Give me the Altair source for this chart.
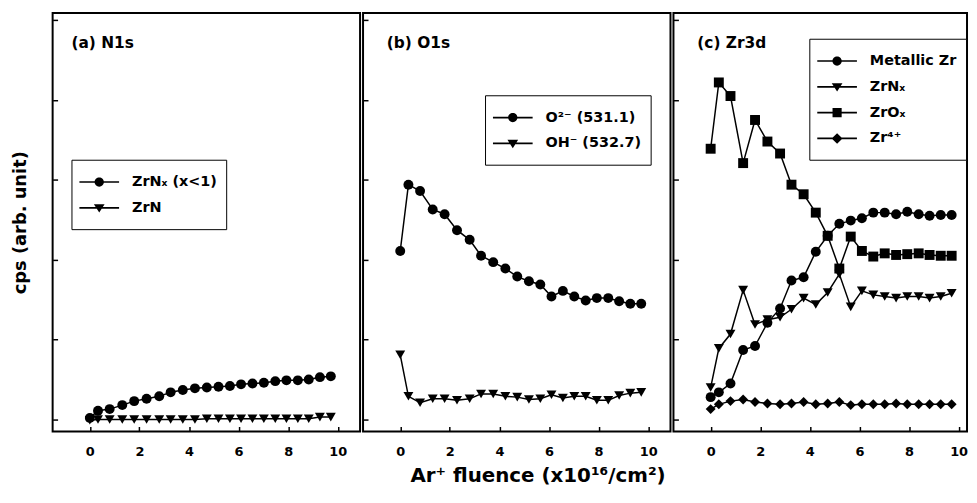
import math
import altair as alt
import pandas as pd

FONT = "DejaVu Sans"

# ---------------- data ----------------
fluence = [0, 0.33, 0.8, 1.31, 1.79, 2.29, 2.8, 3.26, 3.75, 4.24, 4.72,
           5.19, 5.65, 6.1, 6.56, 7.02, 7.48, 7.93, 8.39, 8.83, 9.28, 9.72]

a_series = ["ZrNₓ (x<1)", "ZrN"]
a_zrnx = [0.02, 0.11, 0.13, 0.18, 0.23, 0.26, 0.29, 0.34, 0.37, 0.39, 0.40,
          0.41, 0.42, 0.44, 0.45, 0.46, 0.48, 0.49, 0.49, 0.50, 0.53, 0.54]
a_zrn = [-0.01, 0.0, 0.0, 0.0, 0.0, 0.0, 0.0, 0.0, 0.0, 0.0, 0.01,
         0.01, 0.01, 0.01, 0.01, 0.01, 0.01, 0.01, 0.01, 0.01, 0.03, 0.03]

b_series = ["O²⁻ (531.1)", "OH⁻ (532.7)"]
b_o2 = [2.11, 2.94, 2.86, 2.63, 2.57, 2.37, 2.25, 2.05, 1.97, 1.89, 1.79,
        1.73, 1.69, 1.54, 1.61, 1.54, 1.49, 1.52, 1.52, 1.48, 1.45, 1.45]
b_oh = [0.81, 0.29, 0.21, 0.26, 0.26, 0.24, 0.26, 0.32, 0.32, 0.29, 0.28,
        0.25, 0.26, 0.31, 0.27, 0.29, 0.29, 0.24, 0.24, 0.30, 0.33, 0.34]

c_series = ["Metallic Zr", "ZrNₓ", "ZrOₓ", "Zr⁴⁺"]
c_metal = [0.28, 0.34, 0.45, 0.87, 0.92, 1.21, 1.39, 1.74, 1.78, 2.10, 2.30,
           2.45, 2.49, 2.52, 2.59, 2.59, 2.57, 2.60, 2.57, 2.55, 2.56, 2.56]
c_zrnx = [0.40, 0.89, 1.07, 1.62, 1.19, 1.25, 1.28, 1.38, 1.52, 1.44, 1.59,
          1.82, 1.41, 1.61, 1.56, 1.54, 1.52, 1.54, 1.54, 1.52, 1.54, 1.58]
c_zrox = [3.39, 4.22, 4.05, 3.21, 3.75, 3.48, 3.33, 2.94, 2.82, 2.59, 2.30,
          1.89, 2.29, 2.11, 2.04, 2.08, 2.06, 2.07, 2.08, 2.06, 2.05, 2.05]
c_zr4 = [0.13, 0.19, 0.23, 0.25, 0.22, 0.20, 0.19, 0.20, 0.22, 0.19, 0.20,
         0.22, 0.18, 0.19, 0.19, 0.19, 0.20, 0.19, 0.19, 0.19, 0.19, 0.19]

panel_labels = ["(a) N1s", "(b) O1s", "(c) Zr3d"]
x_ticks = [0, 2, 4, 6, 8, 10]
y_ticks = [0, 1, 2, 3, 4, 5]
y_title = "cps (arb. unit)"
x_title = "Ar⁺ fluence (x10¹⁶/cm²)"

# ---------------- styling ----------------
PLOT_H = 422
Y_DOMAIN = [-0.15, 5.09]
LEG_SIZE = 729
U = math.sqrt(LEG_SIZE) / 2.0


def f(v):
    return f"{v / U:.4f}"


def rect(x0, y0, x1, y1):
    return f"M{f(x0)},{f(y0)}L{f(x1)},{f(y0)}L{f(x1)},{f(y1)}L{f(x0)},{f(y1)}Z"


LINE = rect(-20, -0.8, 20, 0.8)
PAD_V = f"M0,{f(-12.5)}L0,{f(-12.5)}M0,{f(12.5)}L0,{f(12.5)}"
r = 4.7
CIRCLE_P = f"M{f(r)},0A{f(r)},{f(r)},0,1,1,{f(-r)},0A{f(r)},{f(r)},0,1,1,{f(r)},0Z"
TRI_P = f"M{f(-5.4)},{f(-3.6)}L{f(5.4)},{f(-3.6)}L0,{f(4.8)}Z"
SQ_P = rect(-4.6, -4.6, 4.6, 4.6)
DIA_P = f"M0,{f(-5.3)}L{f(5.5)},0L0,{f(5.3)}L{f(-5.5)},0Z"

SHAPE_PATHS = {"circle": CIRCLE_P, "triangle-down": TRI_P, "square": SQ_P, "diamond": DIA_P}


def panel(series, values, shapes, label, label_pos, xdomain, width, leg_pos,
          show_ytitle=False, show_xtitle=False):
    rows = []
    for s, vals in zip(series, values):
        for xv, yv in zip(fluence, vals):
            rows.append({"fluence": xv, "cps": yv, "series": s})
    df = pd.DataFrame(rows)

    xaxis_kw = dict(values=x_ticks, offset=-5, tickSize=5, tickWidth=1.5,
                    tickColor="black", domain=False, grid=False,
                    labelFont=FONT, labelFontWeight="bold", labelFontSize=13,
                    labelColor="black", labelPadding=14, labelFlush=False,
                    title=None)
    if show_xtitle:
        xaxis_kw.update(title=x_title, titleFont=FONT, titleFontWeight="bold",
                        titleFontSize=20, titleColor="black", titleX=176,
                        titleY=55, titleAlign="center", titleBaseline="alphabetic")
    yaxis_kw = dict(values=y_ticks, offset=-5, tickSize=5, tickWidth=1.5,
                    tickColor="black", domain=False, grid=False, labels=False,
                    title=None)
    if show_ytitle:
        yaxis_kw.update(title=y_title, titleFont=FONT, titleFontWeight="bold",
                        titleFontSize=18, titleColor="black", titleX=-37,
                        titleBaseline="middle")

    x = alt.X("fluence:Q", scale=alt.Scale(domain=xdomain, nice=False, zero=False),
              axis=alt.Axis(**xaxis_kw))
    y = alt.Y("cps:Q", scale=alt.Scale(domain=Y_DOMAIN, nice=False, zero=False),
              axis=alt.Axis(**yaxis_kw))

    base = alt.Chart(df)
    lines = base.mark_line(color="black", strokeWidth=1.5).encode(
        x=x, y=y, detail="series:N")
    pts = base.mark_point(filled=True, opacity=1, color="black", size=100).encode(
        x=x, y=y,
        shape=alt.Shape("series:N", scale=alt.Scale(domain=series, range=shapes),
                        legend=None))
    leg_paths = [PAD_V + LINE + SHAPE_PATHS[s] for s in shapes]
    leg = base.transform_filter("false").transform_calculate(
        key="datum.series").mark_point(
        filled=True, opacity=1, color="black").encode(
        x=x, y=y,
        shape=alt.Shape("key:N", scale=alt.Scale(domain=series, range=leg_paths),
                        legend=alt.Legend(
                            orient="none", legendX=leg_pos[0], legendY=leg_pos[1],
                            title=None, direction="vertical",
                            symbolSize=LEG_SIZE, symbolFillColor="black",
                            symbolStrokeWidth=0,
                            symbolOpacity=1, symbolOffset=5.5, labelOffset=19.5,
                            labelFont=FONT, labelFontWeight="bold",
                            labelFontSize=14.5, labelColor="black", labelLimit=300,
                            padding=9, rowPadding=0, strokeColor="black",
                            fillColor="white")))
    lab = alt.Chart(pd.DataFrame({"label": [label]})).mark_text(
        align="left", baseline="alphabetic", font=FONT, fontWeight="bold",
        fontSize=15.5, color="black").encode(
        x=alt.value(label_pos[0]), y=alt.value(label_pos[1]), text="label:N")

    return alt.layer(lines, pts, leg, lab).resolve_scale(
        shape="independent").properties(width=width, height=PLOT_H)


pa = panel(a_series, [a_zrnx, a_zrn], ["circle", "triangle-down"], panel_labels[0],
           (19, 35), [-1.5, 10.9], 310, (19, 148), show_ytitle=True)
pb = panel(b_series, [b_o2, b_oh], ["circle", "triangle-down"], panel_labels[1],
           (24, 35), [-1.5, 10.9], 310, (123, 83), show_xtitle=True)
pc = panel(c_series, [c_metal, c_zrnx, c_zrox, c_zr4],
           ["circle", "triangle-down", "square", "diamond"], panel_labels[2],
           (24, 35), [-1.5, 10.34], 296, (137, 26))

chart = alt.hconcat(pa, pb, pc, spacing=0).resolve_scale(
    x="independent", y="independent", shape="independent").resolve_legend(
    shape="independent").properties(
    padding={"left": 3, "top": 2, "right": 0, "bottom": 0},
    background="white").configure_view(stroke="black", strokeWidth=2)

chart.save("out.html", embed_options={"renderer": "svg", "actions": False})
